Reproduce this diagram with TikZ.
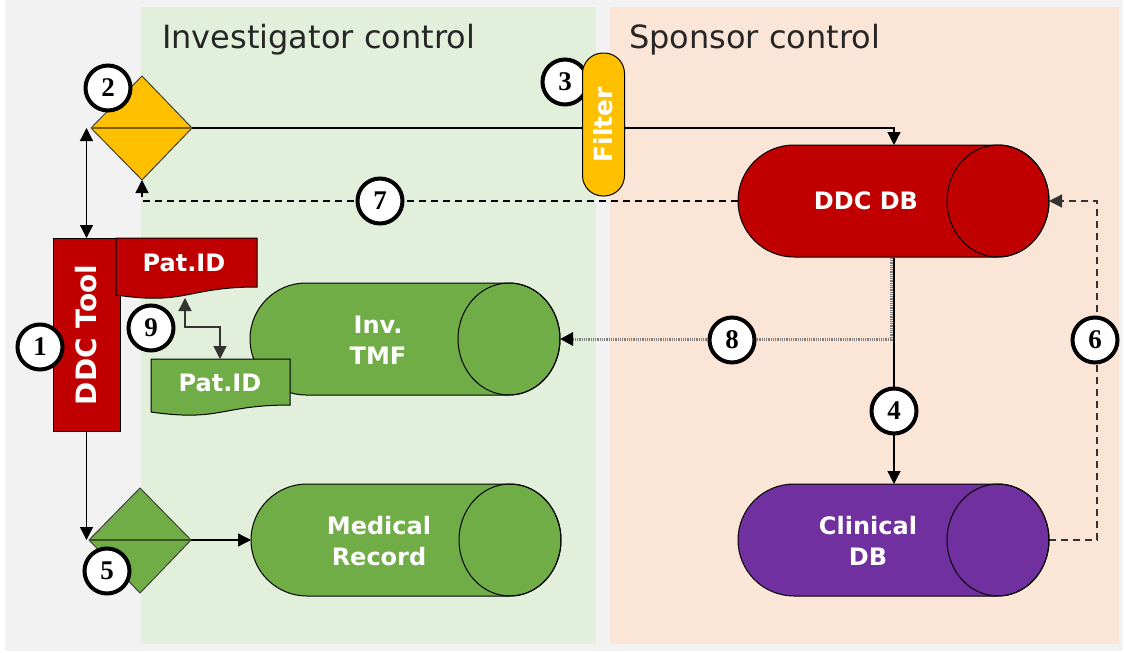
\documentclass[tikz,border=0pt]{standalone}
\usepackage{fontspec}
\setmainfont{DejaVu Sans}
\newfontfamily\numfont{Liberation Serif}
\usetikzlibrary{arrows.meta,calc}
\definecolor{bggray}{HTML}{F2F2F2}
\definecolor{bggreen}{HTML}{E2EFDA}
\definecolor{bgpeach}{HTML}{FBE5D6}
\definecolor{ddcred}{HTML}{C00000}
\definecolor{ddcyellow}{HTML}{FFC000}
\definecolor{ddcgreen}{HTML}{70AD47}
\definecolor{ddcpurple}{HTML}{7030A0}
\newcommand{\mycyl}[4]{% left x, right x, centre y, fill
  \path[draw=black, line width=1pt, fill=#4]
    (#1+56,#3-56) -- (#2-51,#3-56)
    arc[start angle=-90, end angle=90, x radius=51, y radius=56]
    -- (#1+56,#3+56)
    arc[start angle=90, end angle=270, radius=56] -- cycle;
  \draw[line width=1pt] (#2-51,#3) ellipse[x radius=51, y radius=56];
}
\tikzset{
  title/.style={font=\fontsize{32}{36}\selectfont, text=black!85, inner sep=0pt},
  lbl/.style={font=\fontsize{24}{31}\selectfont\bfseries, text=white, align=center, inner sep=0pt},
  num/.style={circle, draw=black, line width=4pt, fill=white, minimum size=45pt, inner sep=0pt,
    font=\numfont\fontsize{27}{27}\selectfont\bfseries},
  conn/.style={line width=1.3pt, draw=black},
  tip/.style={Triangle[length=13pt,width=13pt]},
  arr/.style={conn, -{Triangle[length=13pt,width=13pt]}},
  darr/.style={conn, {Triangle[length=13pt,width=13pt]}-{Triangle[length=13pt,width=13pt]}},
  dashline/.style={dash pattern=on 7pt off 5pt},
  dotline/.style={line width=3pt, draw=black!50, dash pattern=on 1pt off 0.8pt,
    -{Triangle[length=13pt,width=13pt,color=black]}},
  shapeline/.style={draw=black!75, line width=1pt},
}
\begin{document}
\begin{tikzpicture}[x=1pt,y=-1pt]
\useasboundingbox (0,0) rectangle (1125,653);
\fill[white] (0,0) rectangle (1125,653);
\fill[bggray] (5,0) rectangle (1123,651);
\fill[bggreen] (141,7) rectangle (596,644);
\fill[bgpeach] (610,7) rectangle (1119,644);
\node[title, anchor=base west] (tinv) at (162,48) {Investigator control};
\node[title, anchor=base west] (tsp) at (629,48) {Sponsor control};

% key coordinates
\coordinate (d2l) at (91,128);
\coordinate (d2r) at (192,128);
\coordinate (d2t) at (142,76);
\coordinate (d2b) at (142,180);
\coordinate (d5l) at (89,540);
\coordinate (d5r) at (191,540);
\coordinate (d5t) at (140,488);
\coordinate (d5b) at (140,593);
\coordinate (ddcleft) at (738,201);
\coordinate (ddcright) at (1049,201);
\coordinate (ddctop) at (894,145);
\coordinate (ddcbot) at (894,258);
\coordinate (clintop) at (894,484);
\coordinate (clinright) at (1049,540);
\coordinate (tmfright) at (560,339);
\coordinate (medleft) at (251,540);
\coordinate (b8) at (891,258);
\coordinate (c8) at (891,339);
\coordinate (c6) at (1097,540);
\coordinate (p9a) at (185,298);
\coordinate (m9) at (200,327);
\coordinate (p9b) at (220,359);

% connectors
\draw[arr] (d2r) -| (ddctop);
\draw[arr, dashline] (ddcleft) -| (d2b);
\draw[arr] (ddcbot) -- (clintop);
\draw[dotline] (b8) -- (c8) -- (tmfright);
\draw[arr, dashline, draw=black!80] (clinright) -- (c6) |- (ddcright);

% cylinders
\mycyl{738}{1049}{201}{ddcred}
\node[lbl] (ddc) at (866,201) {DDC DB};
\mycyl{738}{1049}{540}{ddcpurple}
\node[lbl] (clin) at (868,541) {Clinical\\DB};
\mycyl{250}{560}{339}{ddcgreen}
\node[lbl] (tmf) at (378,340) {Inv.\\TMF};
\mycyl{251}{561}{540}{ddcgreen}
\node[lbl] (med) at (379,541) {Medical\\Record};

% DDC tool and Pat.ID documents
\node[draw=black, line width=1pt, fill=ddcred, minimum width=193pt, minimum height=67pt, rotate=90,
  font=\fontsize{28}{28}\selectfont\bfseries, text=white, inner sep=0pt] (tool) at (86.5,335) {DDC Tool};
\path[draw=black, line width=1pt, fill=ddcred]
  (116,238) -- (257,238) -- (257,287)
  .. controls (186.5,287) and (186.5,305.5) .. (116,295) -- cycle;
\node[lbl] (pid1) at (184,263) {Pat.ID};
\path[draw=black, line width=1pt, fill=ddcgreen]
  (151,359) -- (290,359) -- (290,405)
  .. controls (220.5,405) and (220.5,422) .. (151,412) -- cycle;
\node[lbl] (pid2) at (220,383) {Pat.ID};
\draw[darr, draw=black!80] (p9a) |- (m9) -| (p9b);

\draw[darr] (tool.east) -- (tool.east |- d2l);
\draw[arr] (tool.west) -- (tool.west |- d5l);
\draw[arr] (d5r) -- (medleft);

% diamonds
\path[shapeline, fill=ddcyellow] (d2t) -- (d2r) -- (d2b) -- (d2l) -- cycle;
\draw[line width=1.5pt, ddcyellow!50!black] (d2l) -- (d2r);
\path[shapeline, fill=ddcgreen] (d5t) -- (d5r) -- (d5b) -- (d5l) -- cycle;
\draw[line width=1.5pt, ddcgreen!50!black] (d5l) -- (d5r);

% number circles
\node[num] (n3) at (565,82) {3};
\node[draw=black, line width=1pt, fill=ddcyellow, rounded corners=20.5pt, minimum width=143pt, minimum height=42pt,
  rotate=90, font=\fontsize{25}{25}\selectfont\bfseries, text=white, inner sep=0pt] (filter) at (603.5,124.5) {Filter};
\node[num] (n1) at (40,347) {1};
\node[num] (n2) at (108,88) {2};
\node[num] (n4) at (894,411) {4};
\node[num] (n5) at (107,571) {5};
\node[num] (n6) at (1095,340) {6};
\node[num] (n7) at (380,201) {7};
\node[num] (n8) at (732,340) {8};
\node[num] (n9) at (151,328) {9};
\end{tikzpicture}
\end{document}
